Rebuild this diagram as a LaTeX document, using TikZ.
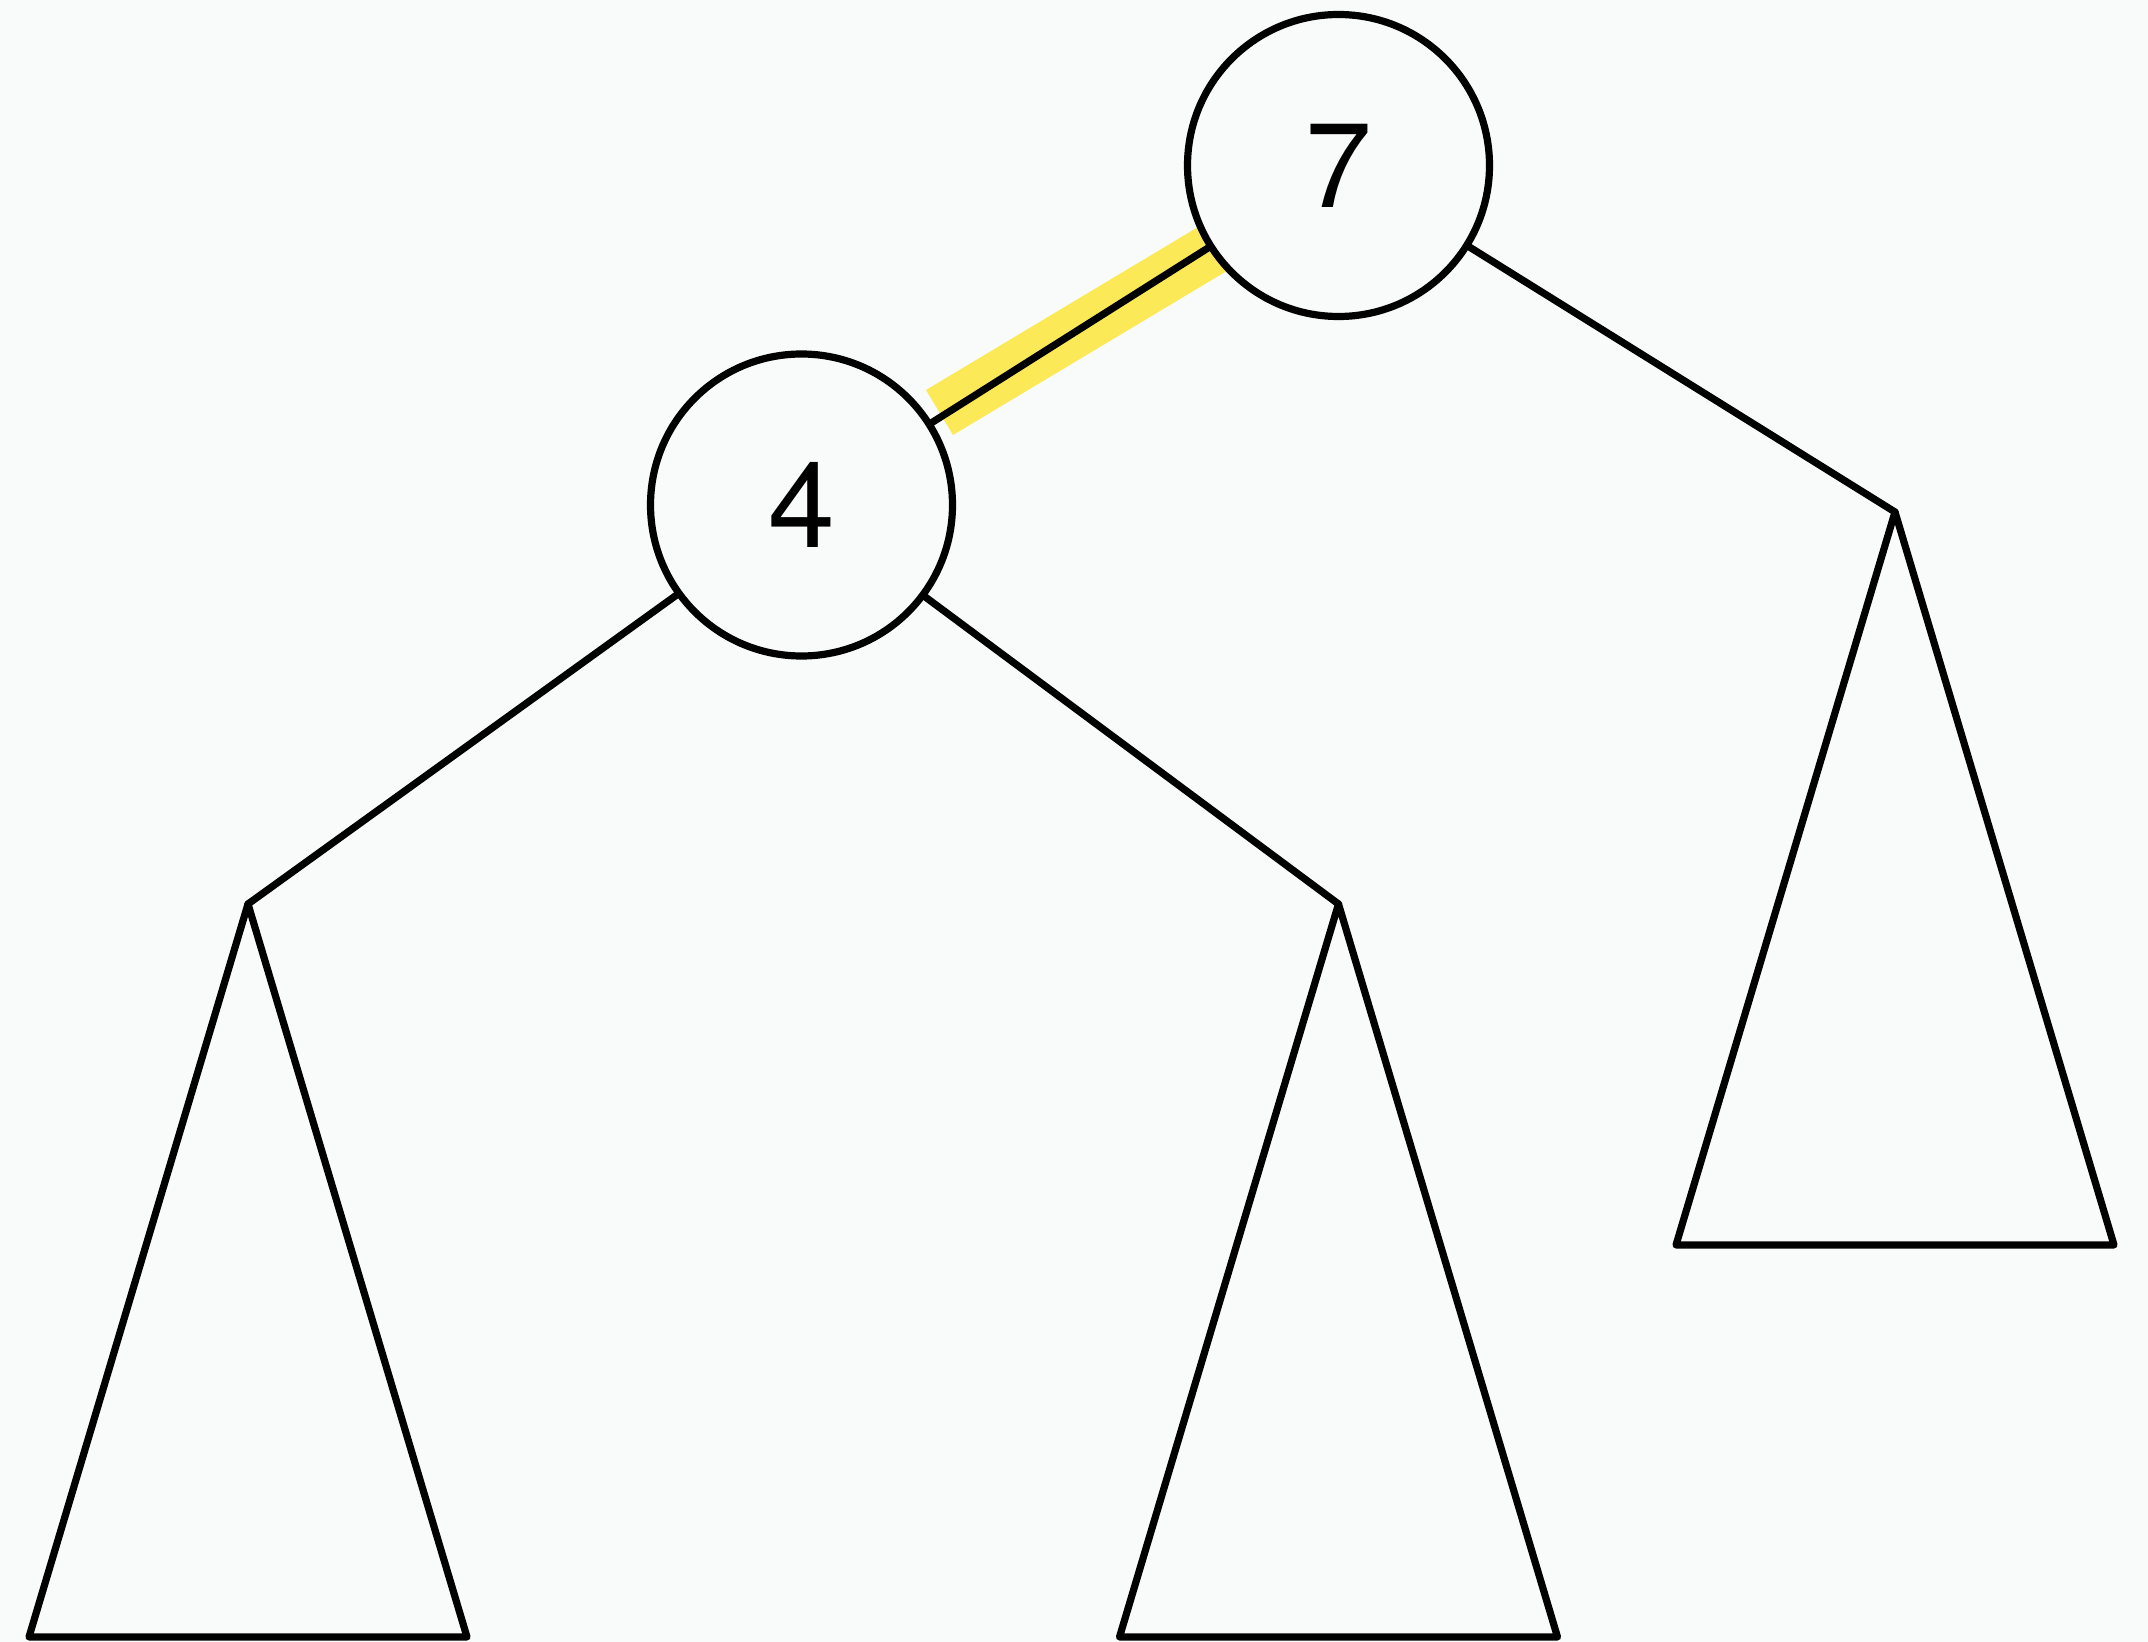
\documentclass[tikz,border=0pt]{standalone}
\usepackage{fontspec}
\setmainfont{TeX Gyre Heros}
\definecolor{bgc}{HTML}{F9FBFA}
\definecolor{hl}{HTML}{FBE957}
\tikzset{
  keynode/.style={circle, draw=black, fill=bgc, line width=3.6pt, minimum size=151pt, inner sep=0pt, font=\fontsize{60}{72}\selectfont},
  edge/.style={draw=black, line width=3.6pt, line join=round, line cap=round},
  subtree/.style={draw=black, line width=3.6pt, line join=round}
}
\begin{document}
\begin{tikzpicture}[x=0.5pt, y=-0.5pt]
\useasboundingbox (0,0) rectangle (2148,1642);
\fill[bgc] (0,0) rectangle (2148,1642);
% highlight band
\fill[hl] (926,390) -- (953,435) -- (1236.1,265.4) -- (1209.1,220.4) -- cycle;
% nodes
\node[keynode] (n7) at (1338.5,165.5) {\raisebox{-1pt}{7}};
\node[keynode] (n4) at (801.5,505) {\raisebox{-1pt}{4}};
% subtree apexes
\coordinate (a1) at (248,904);
\coordinate (a2) at (1338.5,904);
\coordinate (a3) at (1895,512);
% subtrees
\draw[subtree] (a1) -- (29,1637) -- (467,1637) -- cycle;
\draw[subtree] (a2) -- (1119.5,1637) -- (1557.5,1637) -- cycle;
\draw[subtree] (a3) -- (1676,1245) -- (2114,1245) -- cycle;
% edges
\draw[edge] (n7) -- (n4);
\draw[edge] (n7) -- (a3);
\draw[edge] (n4) -- (a1);
\draw[edge] (n4) -- (a2);
\end{tikzpicture}
\end{document}
